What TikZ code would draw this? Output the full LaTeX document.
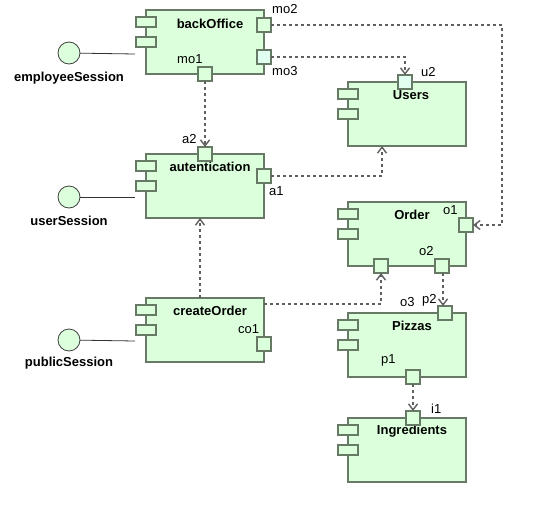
\documentclass[tikz,border=0pt]{standalone}
\usepackage{fontspec}
\setmainfont{Liberation Sans}
\usepackage{tikz}
\usetikzlibrary{arrows.meta,positioning,calc}

\definecolor{compfill}{RGB}{220,255,220}
\definecolor{compline}{RGB}{102,122,102}
\definecolor{portlight}{RGB}{224,255,240}
\definecolor{depline}{RGB}{95,95,95}

\begin{document}
\begin{tikzpicture}[
    x=1pt, y=-1pt,
    comp/.style={rectangle, draw=compline, line width=1.5pt, fill=compfill, minimum width=118pt, minimum height=64pt, inner sep=0pt, outer sep=0pt},
    knob/.style={rectangle, draw=compline, line width=1.5pt, fill=compfill, minimum width=20pt, minimum height=10pt, inner sep=0pt},
    port/.style={rectangle, draw=compline, line width=1.5pt, fill=compfill, minimum size=14pt, inner sep=0pt, outer sep=0pt},
    lport/.style={port, fill=portlight},
    ctitle/.style={anchor=base, font=\fontsize{13}{15}\selectfont\bfseries, inner sep=0pt},
    plabel/.style={anchor=base west, font=\fontsize{13}{15}\selectfont, inner sep=0pt},
    session/.style={circle, draw=black!75, line width=0.8pt, fill=compfill, minimum size=22pt, inner sep=0pt, outer sep=0pt},
    stitle/.style={anchor=base, font=\fontsize{13}{15}\selectfont\bfseries, inner sep=0pt},
    link/.style={draw=black!80, line width=0.8pt},
    dep/.style={draw=depline, line width=1.4pt, dash pattern=on 3pt off 3pt, -{Straight Barb[length=6pt,width=9pt]}}
]
    \useasboundingbox (0,0) rectangle (543,522);

    \node[comp] (bo) at (205,42) {};
    \node[comp] (au) at (205,186) {};
    \node[comp] (co) at (205,330) {};
    \node[comp] (us) at (407,114) {};
    \node[comp] (or) at (407,234) {};
    \node[comp] (pz) at (407,345) {};
    \node[comp] (ig) at (407,450) {};

    \foreach \c in {bo,au,co,us,or,pz,ig} {
        \node[knob] (\c-k1) at ([yshift=-12pt]\c.north west) {};
        \node[knob] (\c-k2) at ([yshift=-32pt]\c.north west) {};
    }

    \node[ctitle] (boT) at ([xshift=5pt,yshift=-18pt]bo.north) {backOffice};
    \node[ctitle] (auT) at ([xshift=5pt,yshift=-17pt]au.north) {autentication};
    \node[ctitle] (coT) at ([xshift=5pt,yshift=-17pt]co.north) {createOrder};
    \node[ctitle] (usT) at ([xshift=4pt,yshift=-17pt]us.north) {Users};
    \node[ctitle] (orT) at ([xshift=5pt,yshift=-17pt]or.north) {Order};
    \node[ctitle] (pzT) at ([xshift=5pt,yshift=-17pt]pz.north) {Pizzas};
    \node[ctitle] (igT) at ([xshift=5pt,yshift=-16pt]ig.north) {Ingredients};

    \node[port] (mo2) at (264,25) {};
    \node[lport] (mo3) at (264,57) {};
    \node[port] (mo1) at (205,74) {};
    \node[port] (a2) at (205,154) {};
    \node[port] (a1) at (264,176) {};
    \node[port] (co1) at (264,344) {};
    \node[lport] (u2) at (405,82) {};
    \node[port] (o1) at (466,225) {};
    \node[port] (o2) at (442,266) {};
    \node[port] (o3) at (381,266) {};
    \node[port] (p2) at (445,313) {};
    \node[port] (p1) at (413,377) {};
    \node[port] (i1) at (413,418) {};

    \node[plabel] (mo2L) at (272,13) {mo2};
    \node[plabel] (mo3L) at (272,75) {mo3};
    \node[plabel] (mo1L) at (177,63) {mo1};
    \node[plabel] (a2L) at (182,143) {a2};
    \node[plabel] (a1L) at (269,195) {a1};
    \node[plabel] (co1L) at (238,333) {co1};
    \node[plabel] (u2L) at (421,76) {u2};
    \node[plabel] (o1L) at (443,214) {o1};
    \node[plabel] (o2L) at (419,255) {o2};
    \node[plabel] (o3L) at (400,306) {o3};
    \node[plabel] (p2L) at (422,303) {p2};
    \node[plabel] (p1L) at (381,363) {p1};
    \node[plabel] (i1L) at (431,413) {i1};

    \node[session] (es) at (69,53) {};
    \node[session] (uss) at (69,197) {};
    \node[session] (ps) at (69,340) {};
    \node[stitle] (esT) at (69,81) {employeeSession};
    \node[stitle] (ussT) at (69,225) {userSession};
    \node[stitle] (psT) at (69,366) {publicSession};

    \coordinate (bo-in) at (135,54);
    \coordinate (au-in) at (135,197);
    \coordinate (co-in) at (135,341);
    \draw[link] (es) -- (bo-in);
    \draw[link] (uss) -- (au-in);
    \draw[link] (ps) -- (co-in);

    \draw[dep] (mo1) -- (a2);
    \draw[dep] (mo2.east) -- ++(231,0) |- (o1.east);
    \draw[dep] (mo3.east) -| (u2.north);
    \draw[dep] (a1.east) -| ([xshift=-25pt]us.south);
    \draw[dep] ([xshift=-5pt]co.north) -- ([xshift=-5pt]au.south);
    \draw[dep] ([yshift=-6pt]co.north east) -| (o3.south);
    \draw[dep] ([xshift=1pt]o2.south) -- ([xshift=1pt]o2.south |- p2.north);
    \draw[dep] (p1) -- (i1);
\end{tikzpicture}
\end{document}
